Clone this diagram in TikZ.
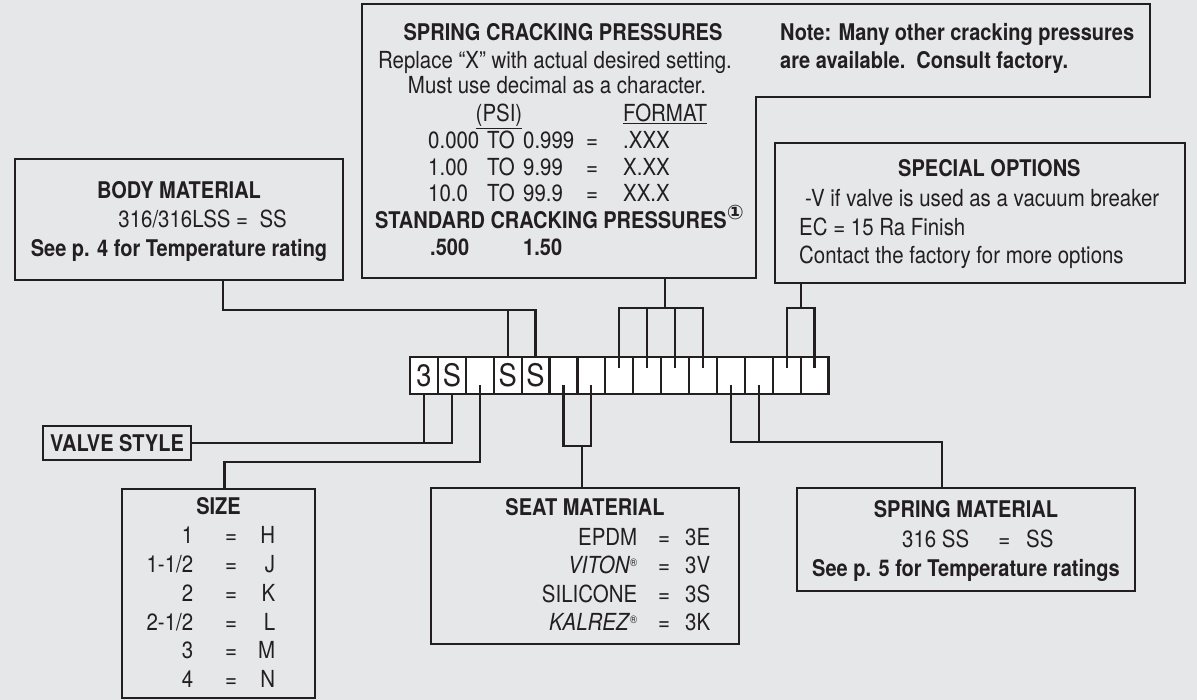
\documentclass[tikz,border=0pt]{standalone}
\usepackage{fontspec}
\setmainfont{TeX Gyre Heros}[FakeStretch=0.87]
\newfontfamily\cellfont{TeX Gyre Heros}[FakeStretch=0.88]
\newfontfamily\symfont{DejaVu Sans}
\usepackage{tikz}
\usetikzlibrary{shapes,arrows}
\usetikzlibrary{positioning}
\definecolor{ink}{RGB}{35,31,32}
\definecolor{bggray}{RGB}{230,231,232}
\tikzstyle{box} = [rectangle, draw=ink, line width=2.5pt, outer sep=0pt,
    inner sep=0pt, text=ink]
\tikzstyle{cell} = [rectangle, draw=ink, fill=white, line width=2.2pt,
    outer sep=0pt, inner sep=0pt, minimum width=27.9pt, minimum height=37pt,
    text=ink, font=\cellfont\fontsize{31}{31}\selectfont]
\tikzstyle{txt} = [inner sep=0pt, text=ink, text height=16.8pt, text depth=0pt,
    font=\fontsize{23.5}{28}\selectfont]
\tikzstyle{hd} = [txt, text height=16.5pt, font=\fontsize{23}{28}\selectfont\bfseries]
\tikzstyle{wire} = [draw=ink, line width=2.2pt]
\newcommand{\crrow}[3]{\makebox[59pt][l]{#1}\makebox[36pt][l]{TO}%
  \makebox[58pt][l]{#2}\makebox[22pt][c]{=}\hspace{20pt}#3}
\newcommand{\szrow}[2]{\makebox[50pt][r]{#1}\makebox[76pt][c]{=}\makebox[6pt][r]{#2}}
\newcommand{\seatrow}[2]{\makebox[100pt][r]{#1}\hspace{6pt}\makebox[42pt][c]{=}#2}
\newcommand{\regmark}{\raisebox{7pt}{\fontsize{11}{11}\selectfont ®}}

\begin{document}
\begin{tikzpicture}[x=1pt, y=-1pt, node distance=27.9pt]
  \useasboundingbox (0,0) rectangle (1197,700);
  \fill[bggray] (0,0) rectangle (1197,700);
  % Place nodes
  \draw[ink, line width=2.5pt] (362,4) -- (1150,4) -- (1150,97) -- (756,97)
    -- (756,278) -- (362,278) -- cycle;
  \coordinate (crack) at (665,278);
  \node[hd] (crackT) at (563,32) {SPRING CRACKING PRESSURES};
  \node[txt] (crackL1) at (555,60) {Replace “X” with actual desired setting.};
  \node[txt] (crackL2) at (557,85) {Must use decimal as a character.};
  \node[txt] (psi) at (499,113) {\underline{(PSI)}};
  \node[txt, anchor=west] (fmt) at (623,113) {\underline{FORMAT}};
  \node[txt, anchor=west] (row1) at (428,140) {\crrow{0.000}{0.999}{.XXX}};
  \node[txt, anchor=west] (row2) at (428,167) {\crrow{1.00}{9.99}{X.XX}};
  \node[txt, anchor=west] (row3) at (428,193) {\crrow{10.0}{99.9}{XX.X}};
  \node[hd, anchor=west] (std) at (375,220)
  {STANDARD CRACKING PRESSURES\raisebox{9pt}{\symfont\fontsize{20}{20}\selectfont ①}};
  \node[hd, anchor=west] (stdval) at (430,247) {\makebox[93pt][l]{.500}1.50};
  \node[hd, anchor=west] (note1) at (780,32) {Note: Many other cracking pressures};
  \node[hd, anchor=west] (note2) at (780,60) {are available.\ \ Consult factory.};

  \node[box, minimum width=328pt, minimum height=121pt] (body) at (179,219.5) {};
  \node[hd] (bodyT) at (179,190) {BODY MATERIAL};
  \node[txt, anchor=east] (bodyL1) at (287,219) {316/316LSS =\ \ SS};
  \node[hd] (bodyL2) at (179,248) {See p. 4 for Temperature rating};

  \node[box, minimum width=410pt, minimum height=140pt] (special) at (980,213) {};
  \node[hd, anchor=west] (specialT) at (898,168) {SPECIAL OPTIONS};
  \node[txt, anchor=west] (specialL1) at (805,198) {-V if valve is used as a vacuum breaker};
  \node[txt, anchor=west] (specialL2) at (799,227) {EC = 15 Ra Finish};
  \node[txt, anchor=west] (specialL3) at (799,255) {Contact the factory for more options};

  \node[cell] (c1) at (423.95,375.5) {3};
  \node[cell, right of=c1] (c2) {S};
  \node[cell, right of=c2] (c3) {};
  \node[cell, right of=c3] (c4) {S};
  \node[cell, right of=c4] (c5) {S};
  \node[cell, right of=c5] (c6) {};
  \node[cell, right of=c6] (c7) {};
  \node[cell, right of=c7] (c8) {};
  \node[cell, right of=c8] (c9) {};
  \node[cell, right of=c9] (c10) {};
  \node[cell, right of=c10] (c11) {};
  \node[cell, right of=c11] (c12) {};
  \node[cell, right of=c12] (c13) {};
  \node[cell, right of=c13] (c14) {};
  \node[cell, right of=c14] (c15) {};

  \node[box, hd, minimum width=148pt, minimum height=34pt] (valve) at (117,443)
  {VALVE STYLE};

  \node[box, minimum width=193pt, minimum height=209pt] (size) at (218.5,593.5) {};
  \node[hd] (sizeT) at (218.5,506) {SIZE};
  \node[txt, anchor=west] (sz1) at (143,535) {\szrow{1}{H}};
  \node[txt, anchor=west] (sz2) at (143,564) {\szrow{1-1/2}{J}};
  \node[txt, anchor=west] (sz3) at (143,593) {\szrow{2}{K}};
  \node[txt, anchor=west] (sz4) at (143,622) {\szrow{2-1/2}{L}};
  \node[txt, anchor=west] (sz5) at (143,650) {\szrow{3}{M}};
  \node[txt, anchor=west] (sz6) at (143,679) {\szrow{4}{N}};

  \node[box, minimum width=308pt, minimum height=156pt] (seat) at (585,566) {};
  \node[hd] (seatT) at (585,507) {SEAT MATERIAL};
  \node[txt, anchor=west] (seat1) at (537,537) {\seatrow{EPDM}{3E}};
  \node[txt, anchor=west] (seat2) at (537,565) {\seatrow{\textit{VITON}\regmark}{3V}};
  \node[txt, anchor=west] (seat3) at (537,594) {\seatrow{SILICONE}{3S}};
  \node[txt, anchor=west] (seat4) at (537,622) {\seatrow{\textit{KALREZ}\regmark}{3K}};

  \node[box, minimum width=338pt, minimum height=103pt] (springmat) at (966,539.5) {};
  \node[hd] (springT) at (966,509) {SPRING MATERIAL};
  \node[txt, anchor=west] (spring1) at (902,539) {316 SS\hspace{29pt}=\hspace{16pt}SS};
  \node[hd] (spring2) at (966,568) {See p. 5 for Temperature ratings};

  % Draw edges
  \draw[wire] ([xshift=44pt]body.south) |- (c5.north |- 0,310) -- (c5.north);
  \draw[wire] (c4.north |- 0,310) -- (c4.north);
  \draw[wire] (crack) -- (crack |- 0,308);
  \draw[wire] ([yshift=-11pt]c8.north) |- (c11.north |- 0,308) -- ([yshift=-11pt]c11.north);
  \draw[wire] (c9.north |- 0,308) -- ([yshift=-11pt]c9.north);
  \draw[wire] (c10.north |- 0,308) -- ([yshift=-11pt]c10.north);
  \coordinate (specialout) at ([xshift=26pt]special.south west);
  \draw[wire] (specialout) -- (specialout |- 0,308);
  \draw[wire] ([yshift=-11pt]c14.north) |- (c15.north |- 0,308) -- ([yshift=-11pt]c15.north);
  \draw[wire] (valve.east) -| (c2.south);
  \draw[wire] (c1.south) -- (c1.south |- valve.east);
  \draw[wire] ([yshift=9pt]c3.south) -- (c3.south |- 0,462) -| ([xshift=6pt]size.north);
  \draw[wire] ([yshift=9pt]c6.south) |- (c7.south |- 0,446) -- ([yshift=9pt]c7.south);
  \draw[wire] ([xshift=-3pt]seat.north) -- ([xshift=-3pt]seat.north |- 0,446);
  \draw[wire] ([yshift=9pt]c12.south) -- (c12.south |- 0,442) -| ([xshift=-24pt]springmat.north);
  \draw[wire] ([yshift=9pt]c13.south) -- (c13.south |- 0,442);
\end{tikzpicture}
\end{document}
